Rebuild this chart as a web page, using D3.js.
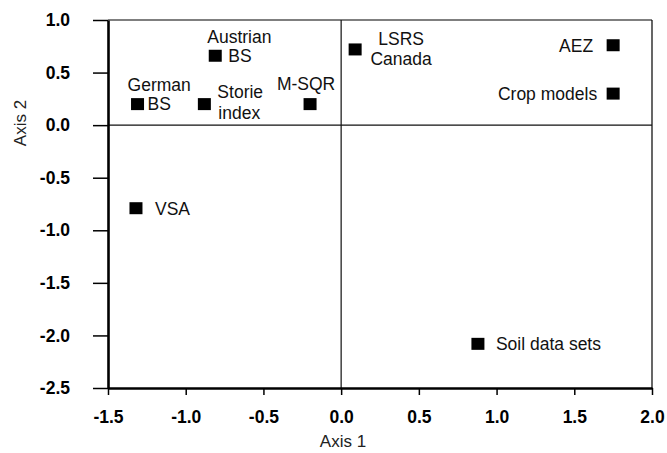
<!DOCTYPE html>
<html>
<head>
<meta charset="utf-8">
<script src="https://cdn.jsdelivr.net/npm/d3@7"></script>
<style>
  body { margin: 0; background: #fff; }
  svg { font-family: "Liberation Sans", Arial, sans-serif; }
</style>
</head>
<body>
<svg id="chart" width="667" height="453"></svg>
<script>
// ordination scores
var names = ["German BS", "Austrian BS", "Storie index", "M-SQR", "VSA",
             "LSRS Canada", "AEZ", "Crop models", "Soil data sets"];
var axis1 = [-1.31, -0.81, -0.88, -0.20, -1.32, 0.09, 1.75, 1.75, 0.88];
var axis2 = [0.20, 0.66, 0.20, 0.20, -0.79, 0.72, 0.76, 0.30, -2.08];
var xTicks = [-1.5, -1.0, -0.5, 0.0, 0.5, 1.0, 1.5, 2.0];
var yTicks = [1.0, 0.5, 0.0, -0.5, -1.0, -1.5, -2.0, -2.5];

// how each label sits next to its marker: lines, dx, dy, anchor
var labelLayout = [
  [["German", -10, -19, "start"], ["BS", 10, 0, "start"]],
  [["Austrian", -8, -19, "start"], ["BS", 13, 0, "start"]],
  [["Storie", 13, -12, "start"], ["index", 14, 9, "start"]],
  [["M-SQR", -4, -20, "middle"]],
  [["VSA", 19, 0, "start"]],
  [["LSRS", 46, -11, "middle"], ["Canada", 46, 9, "middle"]],
  [["AEZ", -20, 0, "end"]],
  [["Crop models", -16, 0, "end"]],
  [["Soil data sets", 18, 0, "start"]]
];

var pLeft = 108, pRight = 652, pTop = 20, pBottom = 388;

var svg = d3.select("#chart");

var x = d3.scaleLinear().domain([-1.5, 2.0]).range([pLeft, pRight]);
var y = d3.scaleLinear().domain([-2.5, 1.0]).range([pBottom, pTop]);

var fmt = function(d) { return d.toFixed(1); };

// frame: thin top and right lines
svg.append("line")
    .attr("x1", pLeft).attr("x2", pRight)
    .attr("y1", pTop).attr("y2", pTop)
    .attr("stroke", "#000").attr("stroke-width", 1.2);
svg.append("line")
    .attr("x1", pRight).attr("x2", pRight)
    .attr("y1", pTop).attr("y2", pBottom)
    .attr("stroke", "#000").attr("stroke-width", 1.2);

// zero lines
svg.append("line")
    .attr("x1", x(0)).attr("x2", x(0))
    .attr("y1", pTop).attr("y2", pBottom)
    .attr("stroke", "#111").attr("stroke-width", 1.2);
svg.append("line")
    .attr("x1", pLeft).attr("x2", pRight)
    .attr("y1", y(0)).attr("y2", y(0))
    .attr("stroke", "#111").attr("stroke-width", 1.2);

var xAxis = svg.append("g")
    .attr("transform", "translate(0," + pBottom + ")")
    .call(d3.axisBottom(x).tickValues(xTicks).tickFormat(fmt)
        .tickSize(7).tickSizeOuter(0).tickPadding(16));

var yAxis = svg.append("g")
    .attr("transform", "translate(" + pLeft + ",0)")
    .call(d3.axisLeft(y).tickValues(yTicks).tickFormat(fmt)
        .tickSize(15).tickSizeOuter(0).tickPadding(23));

[xAxis, yAxis].forEach(function(a) {
    a.select(".domain").attr("stroke", "#000").attr("stroke-width", 2.6);
    a.selectAll(".tick line").attr("stroke", "#000").attr("stroke-width", 1.5);
    a.selectAll(".tick text")
        .attr("fill", "#000")
        .style("font-size", "17.5px")
        .style("font-weight", "bold")
        .style("font-family", "'Liberation Sans', Arial, sans-serif");
});

// axis titles
svg.append("text")
    .attr("x", 343).attr("y", 447)
    .attr("text-anchor", "middle")
    .style("font-size", "17px")
    .attr("fill", "#222")
    .text("Axis 1");

svg.append("text")
    .attr("transform", "translate(26,123) rotate(-90)")
    .attr("text-anchor", "middle")
    .style("font-size", "17px")
    .attr("fill", "#222")
    .text("Axis 2");

// markers
var pts = names.map(function(n, i) { return { name: n, a: axis1[i], b: axis2[i], lab: labelLayout[i] }; });

svg.selectAll("rect.pt")
    .data(pts)
    .enter().append("rect")
    .attr("class", "pt")
    .attr("x", function(d) { return x(d.a) - 6.5; })
    .attr("y", function(d) { return y(d.b) - 6; })
    .attr("width", 13)
    .attr("height", 12)
    .attr("fill", "#000");

var lab = svg.selectAll("g.lab")
    .data(pts)
    .enter().append("g")
    .attr("class", "lab")
    .attr("transform", function(d) { return "translate(" + x(d.a) + "," + y(d.b) + ")"; });

lab.selectAll("text")
    .data(function(d) { return d.lab; })
    .enter().append("text")
    .attr("x", function(l) { return l[1]; })
    .attr("y", function(l) { return l[2]; })
    .attr("dy", "0.36em")
    .attr("text-anchor", function(l) { return l[3]; })
    .style("font-size", "17.5px")
    .attr("fill", "#111")
    .text(function(l) { return l[0]; });
</script>
</body>
</html>
